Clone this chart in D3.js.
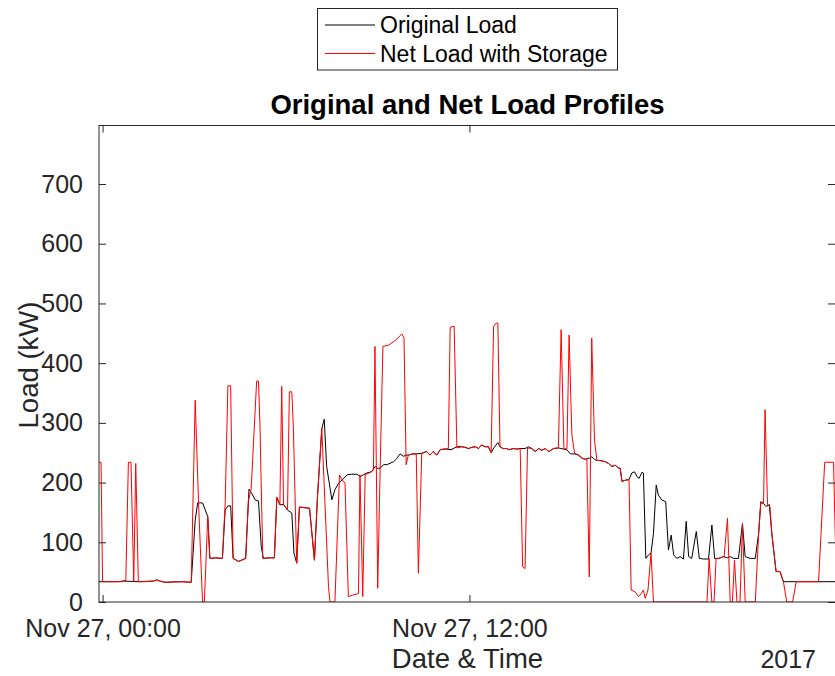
<!DOCTYPE html>
<html>
<head>
<meta charset="utf-8">
<script src="https://cdn.jsdelivr.net/npm/d3@7"></script>
<style>
  body { margin: 0; background: #fff; }
  svg { display: block; font-family: "Liberation Sans", Arial, sans-serif; }
</style>
</head>
<body>
<div id="chart"></div>
<script>
// hours after Nov 27 2017 00:00 and load in kW
var origHours = [
  -0.13, 0.5, 0.68, 1.2, 1.66, 1.77, 1.88, 2.04, 2.6, 2.9,
  3.03, 3.11, 3.27, 3.36, 3.44, 3.51, 3.7, 3.92, 4.01, 4.1,
  4.19, 4.27, 4.45, 4.68, 4.79, 4.88, 4.99, 5.1, 5.19, 5.26,
  5.45, 5.62, 5.7, 5.8, 5.92, 6.05, 6.19, 6.26, 6.35, 6.44,
  6.77, 6.93, 7.03, 7.17, 7.25, 7.33, 7.5, 7.6, 7.72, 7.83,
  8.0, 8.15, 8.32, 8.43, 8.53, 8.64, 8.8, 8.92, 8.98, 9.08,
  9.19, 9.3, 9.52, 9.62, 9.73, 9.84, 9.93, 10.0, 10.13, 10.26,
  10.44, 10.6, 10.71, 10.82, 10.93, 11.04, 11.15, 11.26, 11.4, 11.59,
  11.75, 11.86, 11.97, 12.08, 12.19, 12.3, 12.4, 12.51, 12.62, 12.71,
  12.8, 12.93, 13.0, 13.1, 13.22, 13.3, 13.44, 13.55, 13.66, 13.82,
  13.93, 14.04, 14.15, 14.26, 14.37, 14.48, 14.6, 14.75, 14.91, 15.0,
  15.09, 15.19, 15.3, 15.44, 15.57, 15.68, 15.79, 15.92, 16.0, 16.09,
  16.17, 16.28, 16.44, 16.55, 16.66, 16.77, 16.88, 16.93, 16.99, 17.1,
  17.22, 17.31, 17.4, 17.48, 17.55, 17.64, 17.69, 17.77, 17.86, 17.94,
  18.02, 18.11, 18.18, 18.29, 18.42, 18.51, 18.6, 18.68, 18.78, 18.89,
  19.0, 19.09, 19.17, 19.27, 19.42, 19.52, 19.66, 19.82, 19.93, 20.02,
  20.15, 20.31, 20.44, 20.53, 20.64, 20.8, 20.93, 21.02, 21.18, 21.35,
  21.46, 21.53, 21.62, 21.7, 21.81, 21.89, 22.03, 22.16, 22.27, 24.0
];
var origLoad = [
  34, 34, 35, 34, 35, 37, 35, 33, 34, 33,
  137, 166, 166, 154, 143, 73, 74, 73, 154, 161,
  161, 73, 68, 73, 189, 182, 171, 169, 93, 73,
  74, 74, 175, 163, 163, 154, 149, 82, 65, 159,
  157, 70, 177, 290, 306, 227, 171, 188, 199, 204,
  213, 214, 214, 210, 213, 216, 218, 227, 224, 224,
  230, 230, 235, 240, 248, 244, 246, 246, 248, 248,
  249, 252, 246, 252, 246, 255, 256, 256, 255, 260,
  260, 259, 257, 259, 260, 257, 263, 260, 260, 250,
  258, 267, 260, 257, 257, 255, 257, 256, 257, 257,
  260, 257, 252, 257, 254, 257, 252, 257, 258, 257,
  256, 255, 248, 248, 246, 241, 239, 241, 243, 239,
  237, 237, 235, 232, 227, 229, 224, 224, 202, 204,
  205, 216, 218, 210, 207, 217, 216, 73, 79, 82,
  115, 196, 179, 171, 168, 87, 112, 79, 73, 76,
  72, 135, 76, 73, 118, 73, 72, 72, 129, 73,
  73, 76, 74, 76, 73, 73, 131, 76, 73, 73,
  115, 168, 165, 160, 163, 115, 51, 51, 34, 34
];

var netHours = [
  -0.13, -0.05, 0.0, 0.63, 0.68, 0.76, 0.845, 0.93, 1.02, 1.085,
  1.17, 1.39, 1.66, 1.77, 1.88, 2.04, 2.6, 2.9, 3.03, 3.14,
  3.27, 3.33, 3.44, 3.51, 3.7, 3.92, 4.01, 4.1, 4.19, 4.27,
  4.45, 4.68, 4.77, 4.86, 5.04, 5.1, 5.15, 5.24, 5.45, 5.62,
  5.7, 5.8, 5.86, 5.92, 6.05, 6.11, 6.19, 6.24, 6.35, 6.44,
  6.77, 6.93, 7.03, 7.17, 7.39, 7.44, 7.6, 7.75, 7.83, 7.93,
  8.04, 8.2, 8.37, 8.42, 8.51, 8.59, 8.75, 8.86, 8.91, 9.0,
  9.08, 9.17, 9.35, 9.52, 9.62, 9.79, 9.86, 9.93, 10.0, 10.13,
  10.26, 10.33, 10.44, 10.6, 10.71, 10.82, 10.93, 11.04, 11.15, 11.31,
  11.37, 11.5, 11.59, 11.75, 11.86, 11.97, 12.08, 12.19, 12.3, 12.4,
  12.51, 12.62, 12.71, 12.79, 12.87, 12.93, 13.0, 13.1, 13.22, 13.3,
  13.44, 13.55, 13.66, 13.74, 13.82, 13.9, 14.04, 14.15, 14.26, 14.37,
  14.48, 14.6, 14.75, 14.91, 15.0, 15.09, 15.19, 15.26, 15.35, 15.44,
  15.57, 15.68, 15.79, 15.84, 15.92, 16.0, 16.09, 16.17, 16.28, 16.44,
  16.55, 16.66, 16.77, 16.88, 16.93, 16.99, 17.1, 17.22, 17.29, 17.42,
  17.53, 17.62, 17.69, 17.75, 17.84, 17.94, 18.02, 19.77, 19.84, 19.93,
  20.0, 20.07, 20.15, 20.33, 20.44, 20.53, 20.6, 20.67, 20.75, 20.85,
  20.93, 21.02, 21.35, 21.46, 21.53, 21.62, 21.67, 21.75, 21.83, 21.89,
  22.03, 22.16, 22.27, 22.38, 22.57, 22.69, 23.42, 23.62, 23.91, 24.0
];
var netLoad = [
  234, 234, 34, 34, 36, 36, 234, 234, 34, 232,
  34, 34, 35, 37, 35, 33, 34, 33, 338, 165,
  0, 0, 143, 73, 74, 73, 165, 362, 362, 73,
  68, 73, 170, 189, 370, 370, 294, 73, 74, 74,
  175, 163, 361, 163, 154, 352, 352, 294, 65, 159,
  157, 70, 177, 291, 26, 0, 0, 213, 205, 199,
  9, 12, 14, 213, 9, 213, 217, 221, 428, 23,
  224, 428, 430, 436, 440, 449, 442, 230, 246, 248,
  248, 48, 249, 252, 246, 252, 246, 255, 256, 257,
  460, 462, 258, 260, 259, 257, 259, 260, 257, 263,
  260, 260, 250, 461, 467, 467, 260, 257, 257, 255,
  257, 256, 257, 59, 56, 258, 257, 252, 257, 254,
  257, 252, 257, 258, 456, 256, 257, 447, 280, 249,
  246, 241, 239, 240, 42, 442, 271, 237, 237, 235,
  232, 227, 229, 224, 224, 202, 204, 205, 20, 17,
  9, 14, 20, 6, 20, 82, 0, 0, 73, 0,
  0, 73, 73, 76, 140, 0, 0, 70, 0, 0,
  131, 0, 0, 115, 166, 165, 322, 163, 160, 115,
  51, 51, 34, 0, 0, 34, 34, 234, 234, 34
];

var yTicks = [0, 100, 200, 300, 400, 500, 600, 700];
var seriesNames = ["Original Load", "Net Load with Storage"];
var seriesColors = ["#000000", "#ff0000"];

var width = 835, height = 676;
var plotLeft = 99, plotRight = 836, plotTop = 125.5, plotBottom = 602;
var axisColor = "#262626";
var day = new Date(2017, 10, 27, 0, 0);

function toDate(h) { return new Date(day.getTime() + h * 3600000); }

var x = d3.scaleTime()
  .domain([toDate(-7 / 60), toDate(23.99)])
  .range([plotLeft, plotRight]);

var y = d3.scaleLinear()
  .domain([0, 798])
  .range([plotBottom, plotTop]);

var svg = d3.select("#chart")
  .append("svg")
  .attr("width", width)
  .attr("height", height);

svg.append("clipPath").attr("id", "plotclip")
  .append("rect")
  .attr("x", plotLeft).attr("y", plotTop)
  .attr("width", plotRight - plotLeft).attr("height", plotBottom - plotTop);

var line = d3.line()
  .x(function (d) { return x(toDate(d[0])); })
  .y(function (d) { return y(d[1]); });

var series = [
  d3.zip(origHours, origLoad),
  d3.zip(netHours, netLoad)
];

svg.append("g")
  .attr("clip-path", "url(#plotclip)")
  .selectAll("path")
  .data(series)
  .enter()
  .append("path")
  .attr("d", line)
  .attr("fill", "none")
  .attr("stroke", function (d, i) { return seriesColors[i]; })
  .attr("stroke-width", 1)
  .attr("stroke-linejoin", "round");

// box with ticks on all four sides (matlab style)
var xTicks = [toDate(0), toDate(12)];
var tickLen = 7;
var fmt = d3.timeFormat("%b %d, %H:%M");

function styleAxis(g) {
  g.selectAll(".domain").remove();
  g.selectAll(".tick line").attr("stroke", axisColor);
  g.selectAll(".tick text")
    .attr("fill", axisColor)
    .style("font-size", "25px");
}

svg.append("g")
  .attr("transform", "translate(0," + plotBottom + ")")
  .call(d3.axisBottom(x).tickValues(xTicks).tickSizeInner(-tickLen).tickSizeOuter(0).tickPadding(17).tickFormat(fmt))
  .call(styleAxis);

svg.append("g")
  .attr("transform", "translate(0," + plotTop + ")")
  .call(d3.axisTop(x).tickValues(xTicks).tickSizeInner(-tickLen).tickSizeOuter(0).tickFormat(""))
  .call(styleAxis);

svg.append("g")
  .attr("transform", "translate(" + plotLeft + ",0)")
  .call(d3.axisLeft(y).tickValues(yTicks).tickSizeInner(-tickLen).tickSizeOuter(0).tickPadding(16))
  .call(styleAxis);

svg.append("g")
  .attr("transform", "translate(" + (plotRight - 1) + ",0)")
  .call(d3.axisRight(y).tickValues(yTicks).tickSizeInner(-tickLen).tickSizeOuter(0).tickFormat(""))
  .call(styleAxis);

svg.append("rect")
  .attr("x", plotLeft).attr("y", plotTop)
  .attr("width", plotRight - plotLeft).attr("height", plotBottom - plotTop)
  .attr("fill", "none")
  .attr("stroke", axisColor)
  .attr("stroke-width", 1);

// labels
svg.append("text")
  .attr("x", 467.5).attr("y", 114)
  .attr("text-anchor", "middle")
  .style("font-size", "27.5px")
  .style("font-weight", "bold")
  .attr("fill", "#000")
  .text("Original and Net Load Profiles");

svg.append("text")
  .attr("x", 467.5).attr("y", 668)
  .attr("text-anchor", "middle")
  .style("font-size", "27.5px")
  .attr("fill", axisColor)
  .text("Date & Time");

svg.append("text")
  .attr("x", 816).attr("y", 668)
  .attr("text-anchor", "end")
  .style("font-size", "25px")
  .attr("fill", axisColor)
  .text("2017");

svg.append("text")
  .attr("transform", "translate(38,365) rotate(-90)")
  .attr("text-anchor", "middle")
  .style("font-size", "27.5px")
  .attr("fill", axisColor)
  .text("Load (kW)");

// legend
var legend = svg.append("g");
legend.append("rect")
  .attr("x", 317.5).attr("y", 8.5)
  .attr("width", 300).attr("height", 61.5)
  .attr("fill", "#fff")
  .attr("stroke", axisColor)
  .attr("stroke-width", 1);

var items = legend.selectAll(".item")
  .data(seriesNames)
  .enter()
  .append("g")
  .attr("transform", function (d, i) { return "translate(0," + (25 + i * 28.5) + ")"; });

items.append("line")
  .attr("x1", 325).attr("x2", 375)
  .attr("stroke", function (d, i) { return seriesColors[i]; })
  .attr("stroke-width", 1);

items.append("text")
  .attr("x", 380).attr("y", 8)
  .style("font-size", "23px")
  .attr("fill", "#000")
  .text(function (d) { return d; });
</script>
</body>
</html>
